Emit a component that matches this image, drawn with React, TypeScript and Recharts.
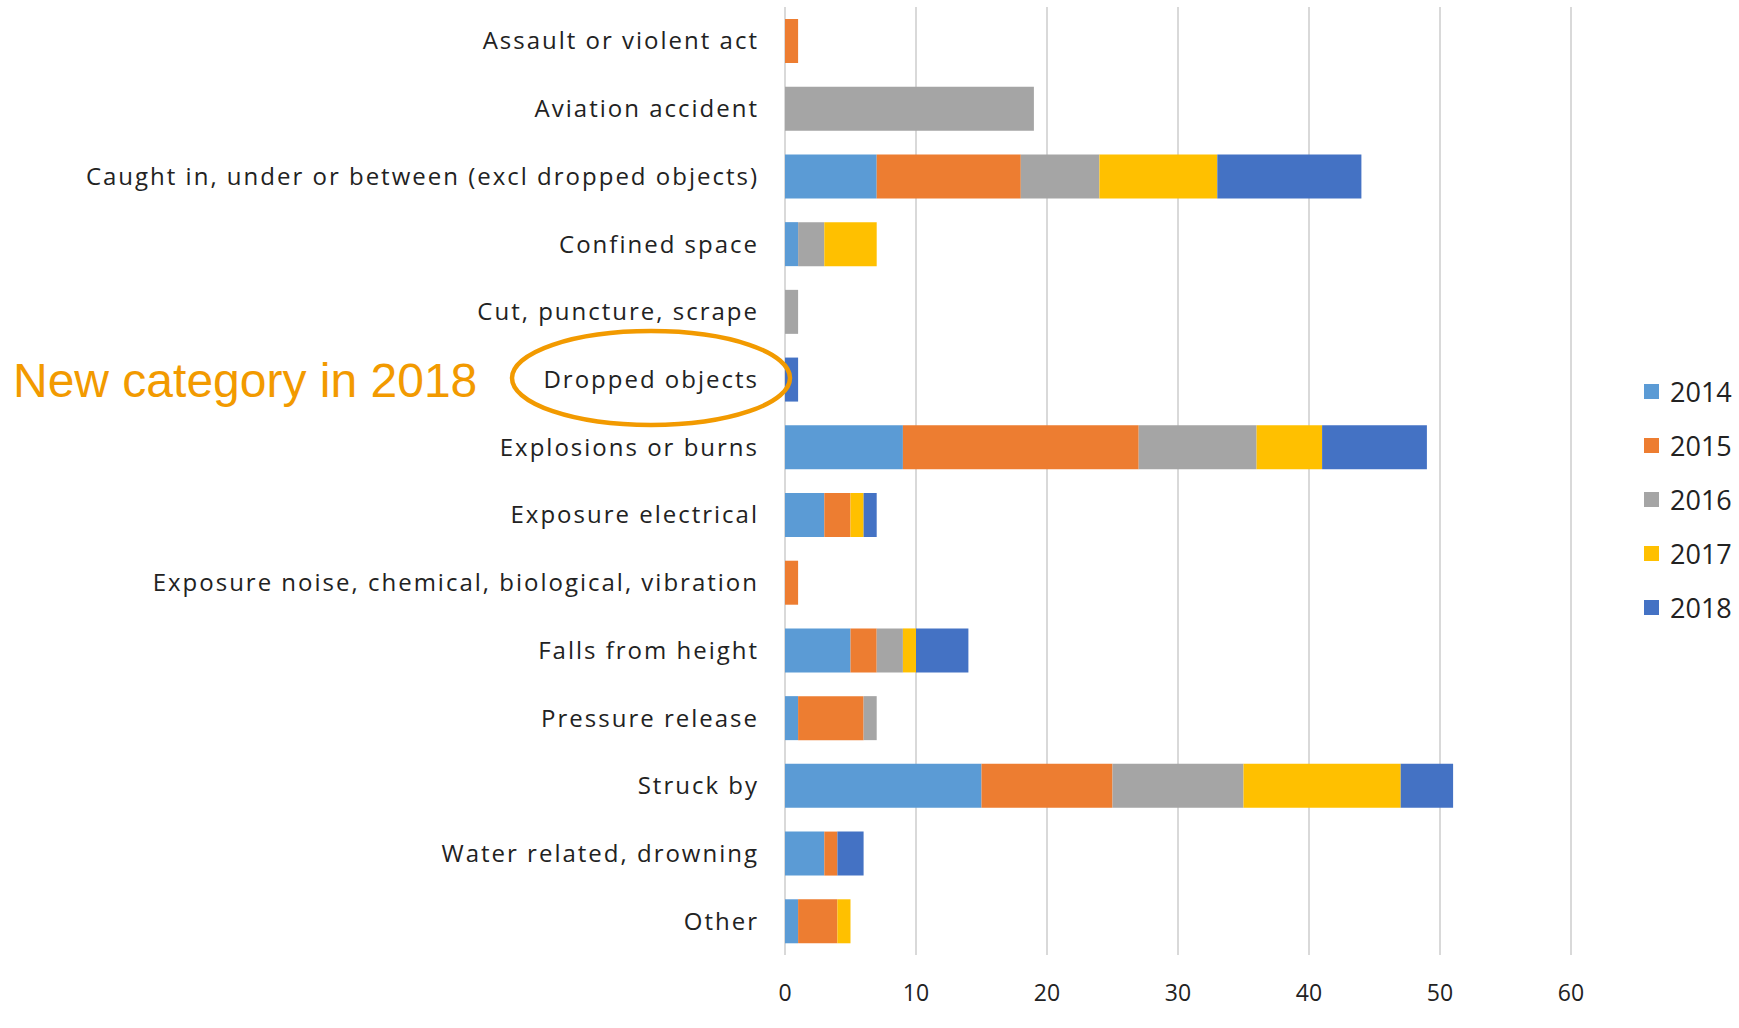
import { BarChart, Bar, XAxis, YAxis, CartesianGrid } from 'recharts'

const categories = [
    'Assault or violent act',
    'Aviation accident',
    'Caught in, under or between (excl dropped objects)',
    'Confined space',
    'Cut, puncture, scrape',
    'Dropped objects',
    'Explosions or burns',
    'Exposure electrical',
    'Exposure noise, chemical, biological, vibration',
    'Falls from height',
    'Pressure release',
    'Struck by',
    'Water related, drowning',
    'Other',
]

const y2014 = [0, 0, 7, 1, 0, 0, 9, 3, 0, 5, 1, 15, 3, 1]
const y2015 = [1, 0, 11, 0, 0, 0, 18, 2, 1, 2, 5, 10, 1, 3]
const y2016 = [0, 19, 6, 2, 1, 0, 9, 0, 0, 2, 1, 10, 0, 0]
const y2017 = [0, 0, 9, 4, 0, 0, 5, 1, 0, 1, 0, 12, 0, 1]
const y2018 = [0, 0, 11, 0, 0, 1, 8, 1, 0, 4, 0, 4, 2, 0]

const xTicks = [0, 10, 20, 30, 40, 50, 60]

const series = [
    { key: 'y2014', name: '2014', color: '#5B9BD5', values: y2014 },
    { key: 'y2015', name: '2015', color: '#ED7D31', values: y2015 },
    { key: 'y2016', name: '2016', color: '#A5A5A5', values: y2016 },
    { key: 'y2017', name: '2017', color: '#FFC000', values: y2017 },
    { key: 'y2018', name: '2018', color: '#4472C4', values: y2018 },
]

const data = categories.map((name, i) => {
    const row: Record<string, string | number> = { name }
    series.forEach((s) => {
        row[s.key] = s.values[i]
    })
    return row
})

const labelFont = "'Open Sans', 'Noto Sans', sans-serif"
const accent = '#F29A00'

export default function App() {
    return (
        <div
            style={{
                position: 'absolute',
                left: 0,
                top: 0,
                width: 1739,
                height: 1028,
                background: '#fff',
                fontFamily: labelFont,
            }}
        >
            <BarChart
                width={1739}
                height={1028}
                data={data}
                layout='vertical'
                margin={{ top: 7, right: 168, bottom: 13, left: 0 }}
            >
                <CartesianGrid horizontal={false} stroke='#d9d9d9' strokeWidth={2} />
                <XAxis
                    type='number'
                    domain={[0, 60]}
                    ticks={xTicks}
                    axisLine={false}
                    tickLine={false}
                    tickSize={0}
                    tickMargin={30}
                    height={60}
                    tick={{ fontSize: 23, fill: '#222', fontFamily: labelFont }}
                />
                <YAxis
                    type='category'
                    dataKey='name'
                    width={785}
                    axisLine={false}
                    tickLine={false}
                    tickSize={0}
                    tickMargin={26}
                    interval={0}
                    tick={{ fontSize: 24, fill: '#222', fontFamily: labelFont, letterSpacing: 2 }}
                />
                {series.map((s) => (
                    <Bar
                        key={s.key}
                        dataKey={s.key}
                        name={s.name}
                        stackId='a'
                        fill={s.color}
                        barSize={44}
                        isAnimationActive={false}
                    />
                ))}
            </BarChart>

            {/* legend */}
            <div style={{ position: 'absolute', left: 1644, top: 364 }}>
                {series.map((s) => (
                    <div
                        key={s.key}
                        style={{
                            display: 'flex',
                            alignItems: 'center',
                            height: 54,
                        }}
                    >
                        <div style={{ width: 15, height: 15, background: s.color, marginRight: 11 }} />
                        <span style={{ fontSize: 27, color: '#222' }}>{s.name}</span>
                    </div>
                ))}
            </div>

            {/* annotation */}
            <svg
                width={1739}
                height={1028}
                style={{ position: 'absolute', left: 0, top: 0, pointerEvents: 'none' }}
            >
                <text
                    x={13}
                    y={397}
                    fontSize={48}
                    fill={accent}
                    fontFamily="'Liberation Sans', Arial, sans-serif"
                >
                    New category in 2018
                </text>
                <ellipse cx={651} cy={378} rx={139} ry={47} fill='none' stroke={accent} strokeWidth={4.5} />
            </svg>
        </div>
    )
}
